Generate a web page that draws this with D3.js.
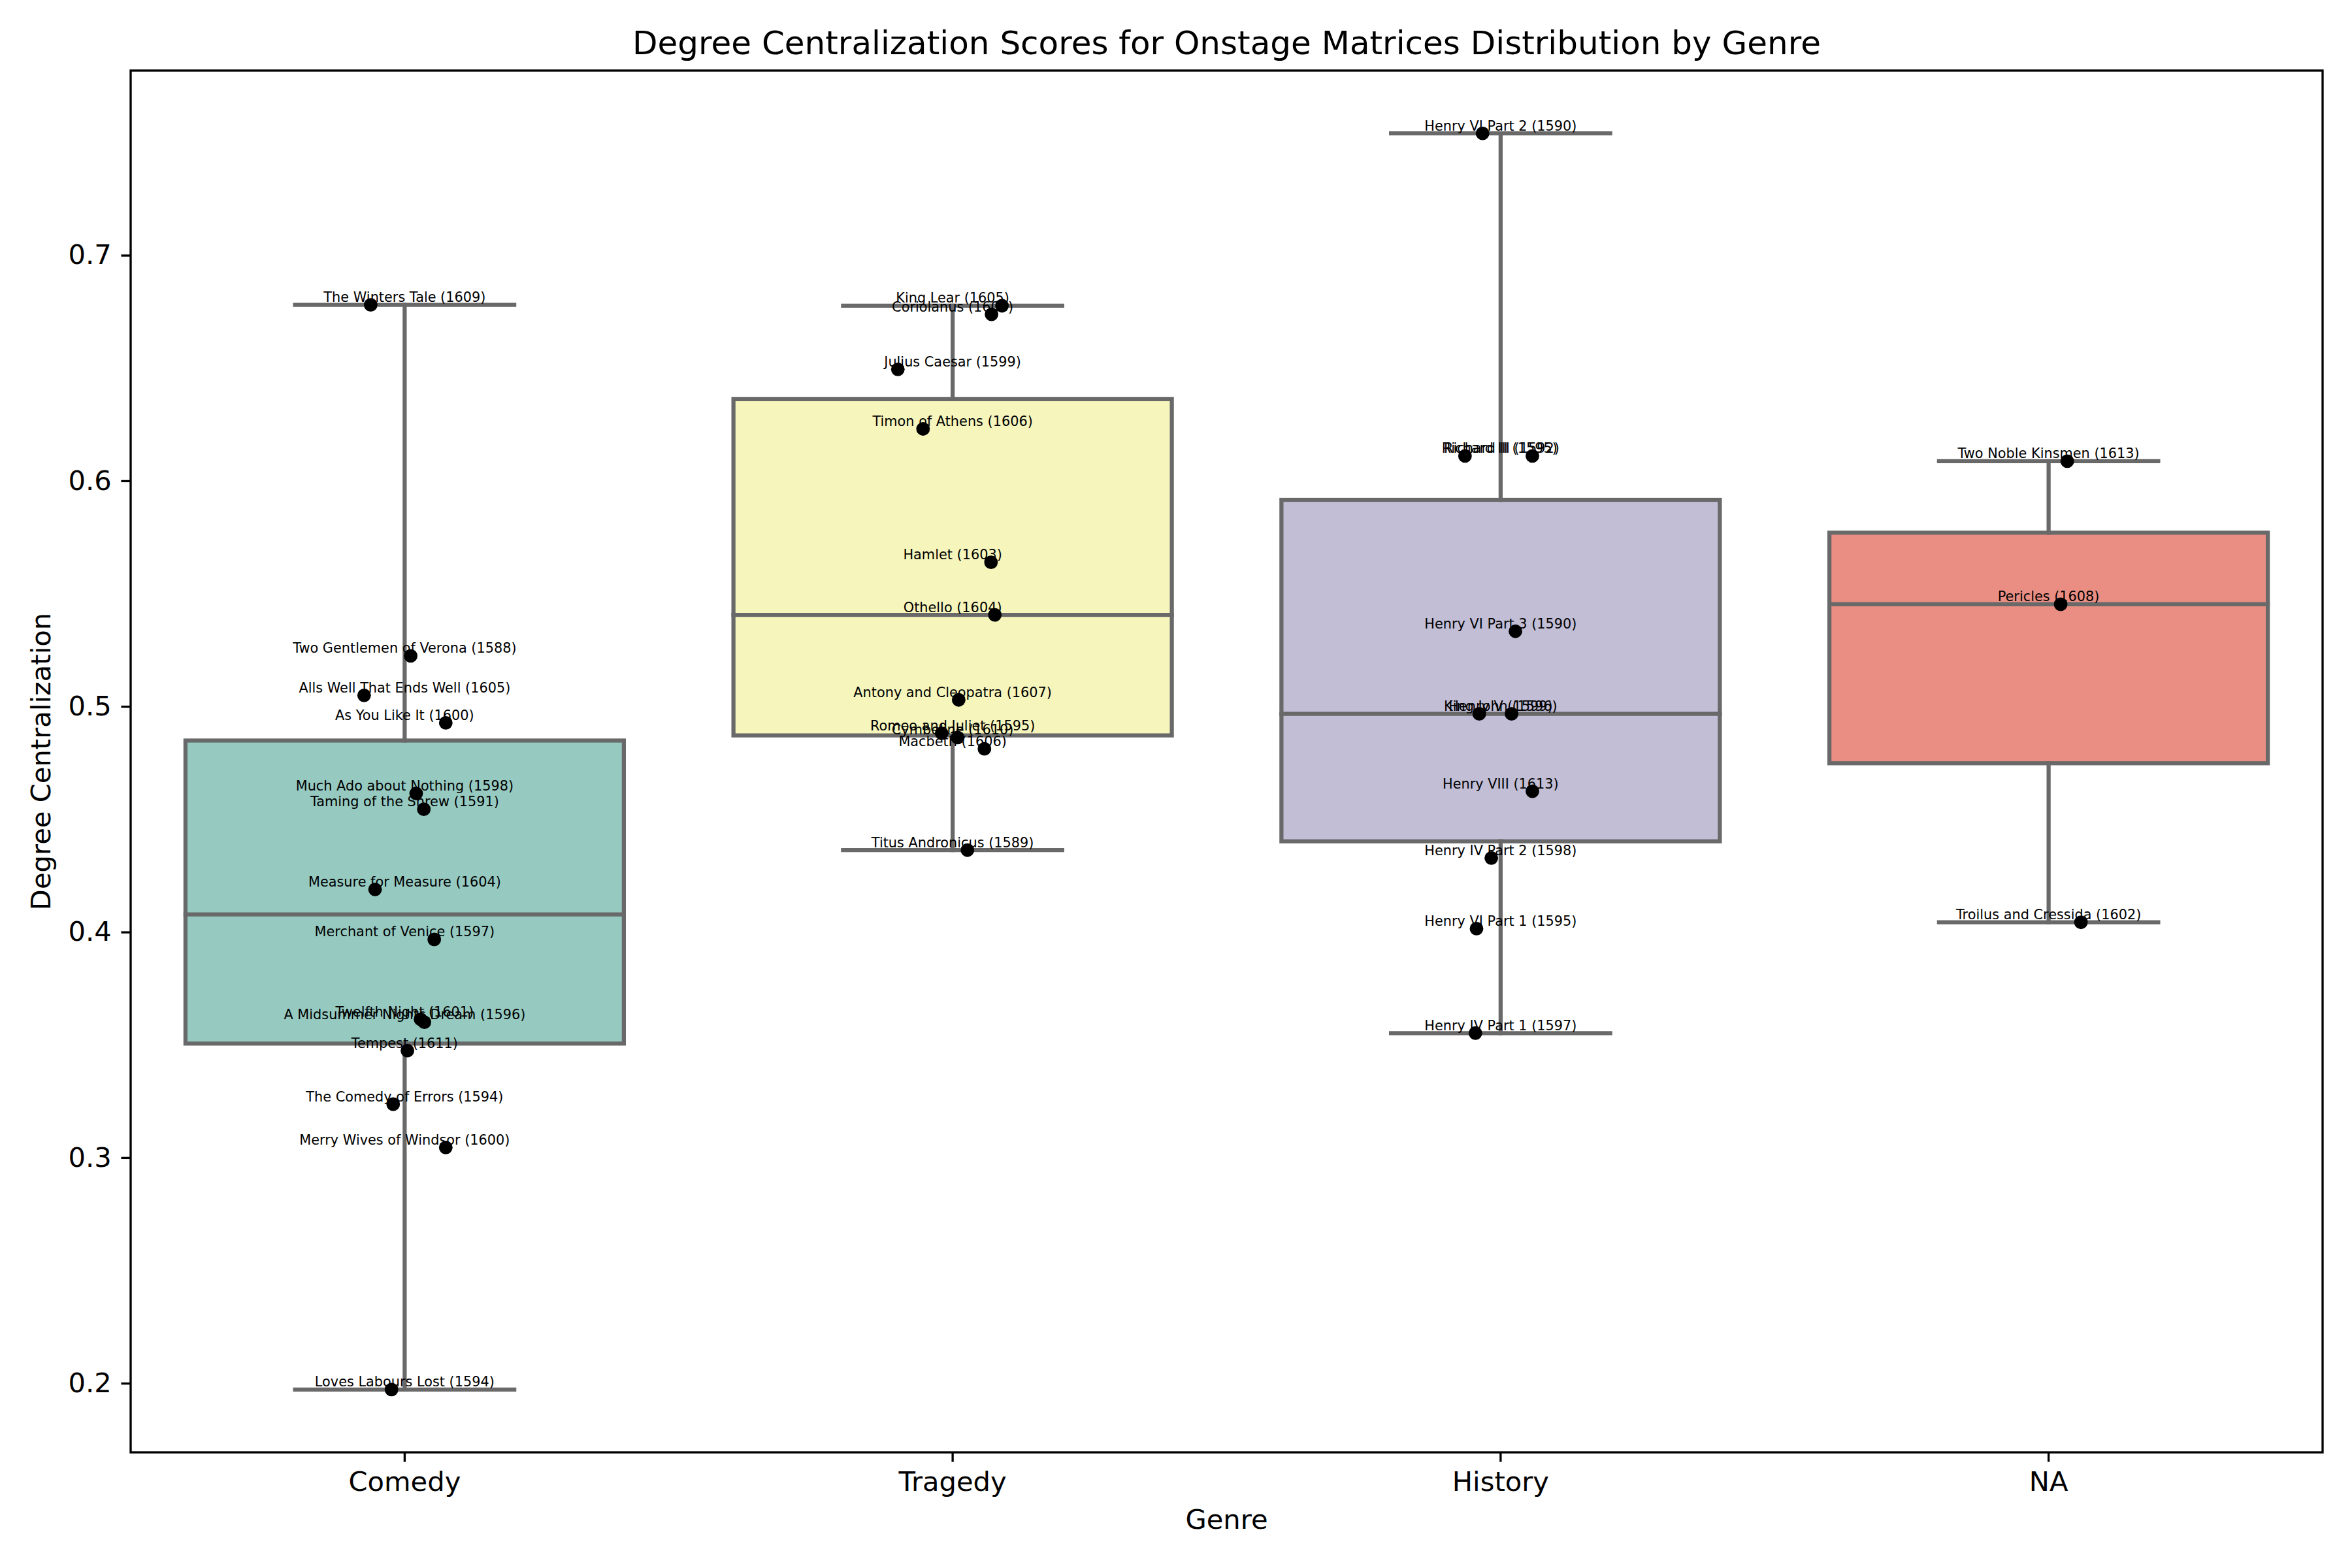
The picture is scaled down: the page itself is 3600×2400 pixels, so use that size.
<!DOCTYPE html>
<html><head><meta charset="utf-8">
<script src="https://cdn.jsdelivr.net/npm/d3@7"></script>
<style>
body{margin:0;background:#fff}
svg{display:block}
text{font-family:"DejaVu Sans",sans-serif}
</style>
</head><body>
<svg id="chart" width="3600" height="2400"></svg>
<script>
// ---------- data ----------
const genres = ["Comedy", "Tragedy", "History", "NA"];
const genreColors = ["#96cac1", "#f5f5bc", "#c1bed6", "#ea8e83"];
const yTicks = [0.2, 0.3, 0.4, 0.5, 0.6, 0.7];

const comedyPlays = ["The Winters Tale (1609)", "Two Gentlemen of Verona (1588)", "Alls Well That Ends Well (1605)",
  "As You Like It (1600)", "Much Ado about Nothing (1598)", "Taming of the Shrew (1591)", "Measure for Measure (1604)",
  "Merchant of Venice (1597)", "Twelfth Night (1601)", "A Midsummer Nights Dream (1596)", "Tempest (1611)",
  "The Comedy of Errors (1594)", "Merry Wives of Windsor (1600)", "Loves Labours Lost (1594)"];
const comedyScores = [0.678, 0.5224, 0.5049, 0.4927, 0.4614, 0.4544, 0.4189, 0.3967, 0.3613, 0.3600, 0.3474, 0.3237, 0.3045, 0.1972];
const comedyJitter = [-0.062, 0.011, -0.074, 0.075, 0.021, 0.035, -0.054, 0.054, 0.029, 0.036, 0.005, -0.021, 0.075, -0.024];

const tragedyPlays = ["King Lear (1605)", "Coriolanus (1608)", "Julius Caesar (1599)", "Timon of Athens (1606)",
  "Hamlet (1603)", "Othello (1604)", "Antony and Cleopatra (1607)", "Romeo and Juliet (1595)", "Cymbeline (1610)",
  "Macbeth (1606)", "Titus Andronicus (1589)"];
const tragedyScores = [0.6776, 0.6738, 0.6494, 0.6230, 0.5639, 0.5406, 0.5029, 0.4881, 0.4862, 0.4812, 0.4363];
const tragedyJitter = [0.090, 0.071, -0.100, -0.054, 0.070, 0.077, 0.011, -0.020, 0.009, 0.058, 0.027];

const historyPlays = ["Henry VI Part 2 (1590)", "Richard II (1595)", "Richard III (1592)", "Henry VI Part 3 (1590)",
  "King John (1596)", "Henry V (1599)", "Henry VIII (1613)", "Henry IV Part 2 (1598)", "Henry VI Part 1 (1595)",
  "Henry IV Part 1 (1597)"];
const historyScores = [0.754, 0.611, 0.611, 0.5333, 0.4967, 0.4967, 0.4624, 0.4328, 0.4015, 0.3552];
const historyJitter = [-0.033, -0.065, 0.058, 0.027, -0.039, 0.020, 0.058, -0.017, -0.044, -0.046];

const naPlays = ["Two Noble Kinsmen (1613)", "Pericles (1608)", "Troilus and Cressida (1602)"];
const naScores = [0.6087, 0.5453, 0.4043];
const naJitter = [0.034, 0.022, 0.059];

const groups = [
  {genre: genres[0], plays: comedyPlays, scores: comedyScores, jitter: comedyJitter},
  {genre: genres[1], plays: tragedyPlays, scores: tragedyScores, jitter: tragedyJitter},
  {genre: genres[2], plays: historyPlays, scores: historyScores, jitter: historyJitter},
  {genre: genres[3], plays: naPlays, scores: naScores, jitter: naJitter}
];

// ---------- layout ----------
const PT = 300 / 72;
const mLeft = 200, mRight = 3555, mTop = 108, mBottom = 2223;
const lineGray = "#696969";
const lw = 1.5 * PT;

const svg = d3.select("#chart");

const allScores = groups.flatMap(g => g.scores);
const mn = d3.min(allScores), mx = d3.max(allScores), pad = (mx - mn) * 0.05;
const y = d3.scaleLinear().domain([mn - pad, mx + pad]).range([mBottom, mTop]);
const x = d3.scaleBand().domain(genres).range([mLeft, mRight]).paddingInner(0).paddingOuter(0);
const bw = x.bandwidth();
const cx = g => x(g) + bw / 2;

// ---------- boxes ----------
const stats = groups.map((g, i) => {
  const s = g.scores.slice().sort(d3.ascending);
  const q1 = d3.quantile(s, 0.25), med = d3.quantile(s, 0.5), q3 = d3.quantile(s, 0.75);
  const iqr = q3 - q1;
  const hi = d3.max(s.filter(v => v <= q3 + 1.5 * iqr));
  const lo = d3.min(s.filter(v => v >= q1 - 1.5 * iqr));
  return {genre: g.genre, color: genreColors[i], q1, med, q3, hi, lo};
});

const boxG = svg.append("g");
stats.forEach(st => {
  const c = cx(st.genre);
  boxG.append("rect")
    .attr("x", c - 0.4 * bw).attr("width", 0.8 * bw)
    .attr("y", y(st.q3)).attr("height", y(st.q1) - y(st.q3))
    .attr("fill", st.color).attr("stroke", lineGray).attr("stroke-width", lw);
  const lines = [
    [c, st.q3, c, st.hi], [c, st.q1, c, st.lo],
    [c - 0.2 * bw, st.hi, c + 0.2 * bw, st.hi],
    [c - 0.2 * bw, st.lo, c + 0.2 * bw, st.lo],
    [c - 0.4 * bw, st.med, c + 0.4 * bw, st.med]
  ];
  lines.forEach(l => boxG.append("line")
    .attr("x1", l[0]).attr("y1", y(l[1])).attr("x2", l[2]).attr("y2", y(l[3]))
    .attr("stroke", lineGray).attr("stroke-width", lw).attr("stroke-linecap", "square"));
});

// ---------- points ----------
const pts = groups.flatMap(g => g.scores.map((v, i) => ({genre: g.genre, v, j: g.jitter[i], name: g.plays[i]})));
svg.append("g").selectAll("circle").data(pts).join("circle")
  .attr("cx", d => cx(d.genre) + d.j * bw)
  .attr("cy", d => y(d.v))
  .attr("r", 2.5 * PT)
  .attr("fill", "#000");

// ---------- labels ----------
svg.append("g").selectAll("text").data(pts).join("text")
  .attr("x", d => cx(d.genre))
  .attr("y", d => y(d.v) - 4.5)
  .attr("text-anchor", "middle")
  .attr("font-size", 5 * PT)
  .attr("fill", "#000")
  .text(d => d.name);

// ---------- axes ----------
const tickFont = 10 * PT;
const yAxis = svg.append("g").attr("transform", `translate(${mLeft},0)`)
  .call(d3.axisLeft(y).tickValues(yTicks).tickFormat(d3.format(".1f")).tickSize(3.5 * PT).tickPadding(3.5 * PT));
const xAxis = svg.append("g").attr("transform", `translate(0,${mBottom})`)
  .call(d3.axisBottom(x).tickSize(3.5 * PT).tickPadding(3.5 * PT));
[yAxis, xAxis].forEach(a => {
  a.select(".domain").remove();
  a.selectAll(".tick line").attr("stroke", "#000").attr("stroke-width", 0.8 * PT);
  a.selectAll(".tick text").attr("font-size", tickFont).attr("font-family", "DejaVu Sans").attr("fill", "#000");
});

svg.append("rect")
  .attr("x", mLeft).attr("y", mTop).attr("width", mRight - mLeft).attr("height", mBottom - mTop)
  .attr("fill", "none").attr("stroke", "#000").attr("stroke-width", 0.8 * PT);

svg.append("text")
  .attr("x", (mLeft + mRight) / 2).attr("y", 83)
  .attr("text-anchor", "middle").attr("font-size", 12 * PT)
  .text("Degree Centralization Scores for Onstage Matrices Distribution by Genre");

svg.append("text")
  .attr("x", (mLeft + mRight) / 2).attr("y", 2340)
  .attr("text-anchor", "middle").attr("font-size", tickFont)
  .text("Genre");

svg.append("text")
  .attr("transform", `translate(77,${(mTop + mBottom) / 2}) rotate(-90)`)
  .attr("text-anchor", "middle").attr("font-size", tickFont)
  .text("Degree Centralization");
</script>
</body></html>
